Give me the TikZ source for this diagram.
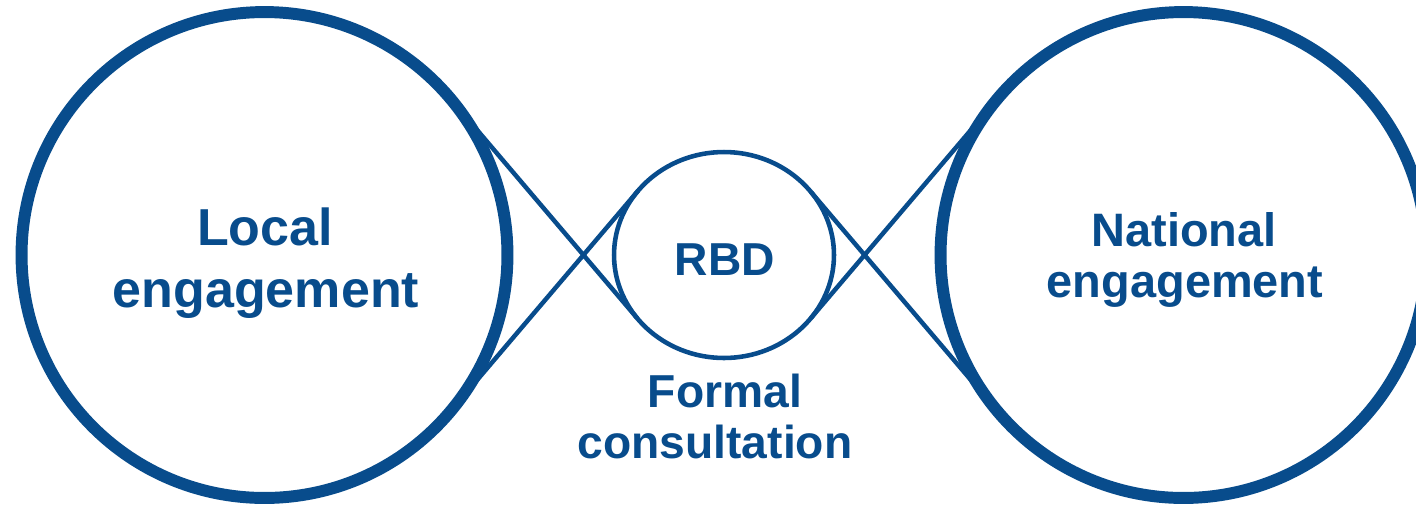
\documentclass[tikz,border=0pt]{standalone}
\usepackage{fontspec}
\usetikzlibrary{shapes.geometric}
\setmainfont{Liberation Sans}
\definecolor{navy}{RGB}{8,76,140}
\begin{document}
\begin{tikzpicture}[x=0.02cm, y=-0.02cm,
  bigring/.style={circle, draw=navy, line width=6.8pt, minimum size=9.72cm, inner sep=0pt, outer sep=0pt},
  smallring/.style={ellipse, draw=navy, line width=2.6pt, minimum width=4.4cm, minimum height=4.12cm, inner sep=0pt, outer sep=0pt},
  link/.style={draw=navy, line width=2.55pt},
  lbl/.style={text=navy, anchor=base, inner sep=0pt, outer sep=0pt},
  bigtxt/.style={lbl, font=\fontsize{29.6}{32}\selectfont\bfseries},
  midtxt/.style={lbl, font=\fontsize{26.7}{30}\selectfont\bfseries},
  smtxt/.style={lbl, font=\fontsize{26.3}{30}\selectfont\bfseries}]
\useasboundingbox (0,0) rectangle (1416,505);
\clip (0,0) rectangle (1416,505);
% circles
\node[bigring] (local) at (264.5,255) {};
\node[smallring] (rbd) at (724,255) {};
\node[bigring] (national) at (1183.5,255) {};
% crossing tangent connectors
\draw[link] (local.40.48) -- (rbd.216.4);
\draw[link] (local.-40.48) -- (rbd.143.6);
\draw[link] (rbd.36.4) -- (national.220.48);
\draw[link] (rbd.-36.4) -- (national.139.52);
% texts
\node[bigtxt] (t1) at (265,245) {Local};
\node[bigtxt] (t2) at (266,307) {engagement};
\node[midtxt] (t3) at (1184,246) {National};
\node[midtxt] (t4) at (1185,297) {engagement};
\node[smtxt] (t5) at (725,275) {RBD};
\node[smtxt] (t6) at (725,407) {Formal};
\node[smtxt] (t7) at (715,458) {consultation};
\end{tikzpicture}
\end{document}
